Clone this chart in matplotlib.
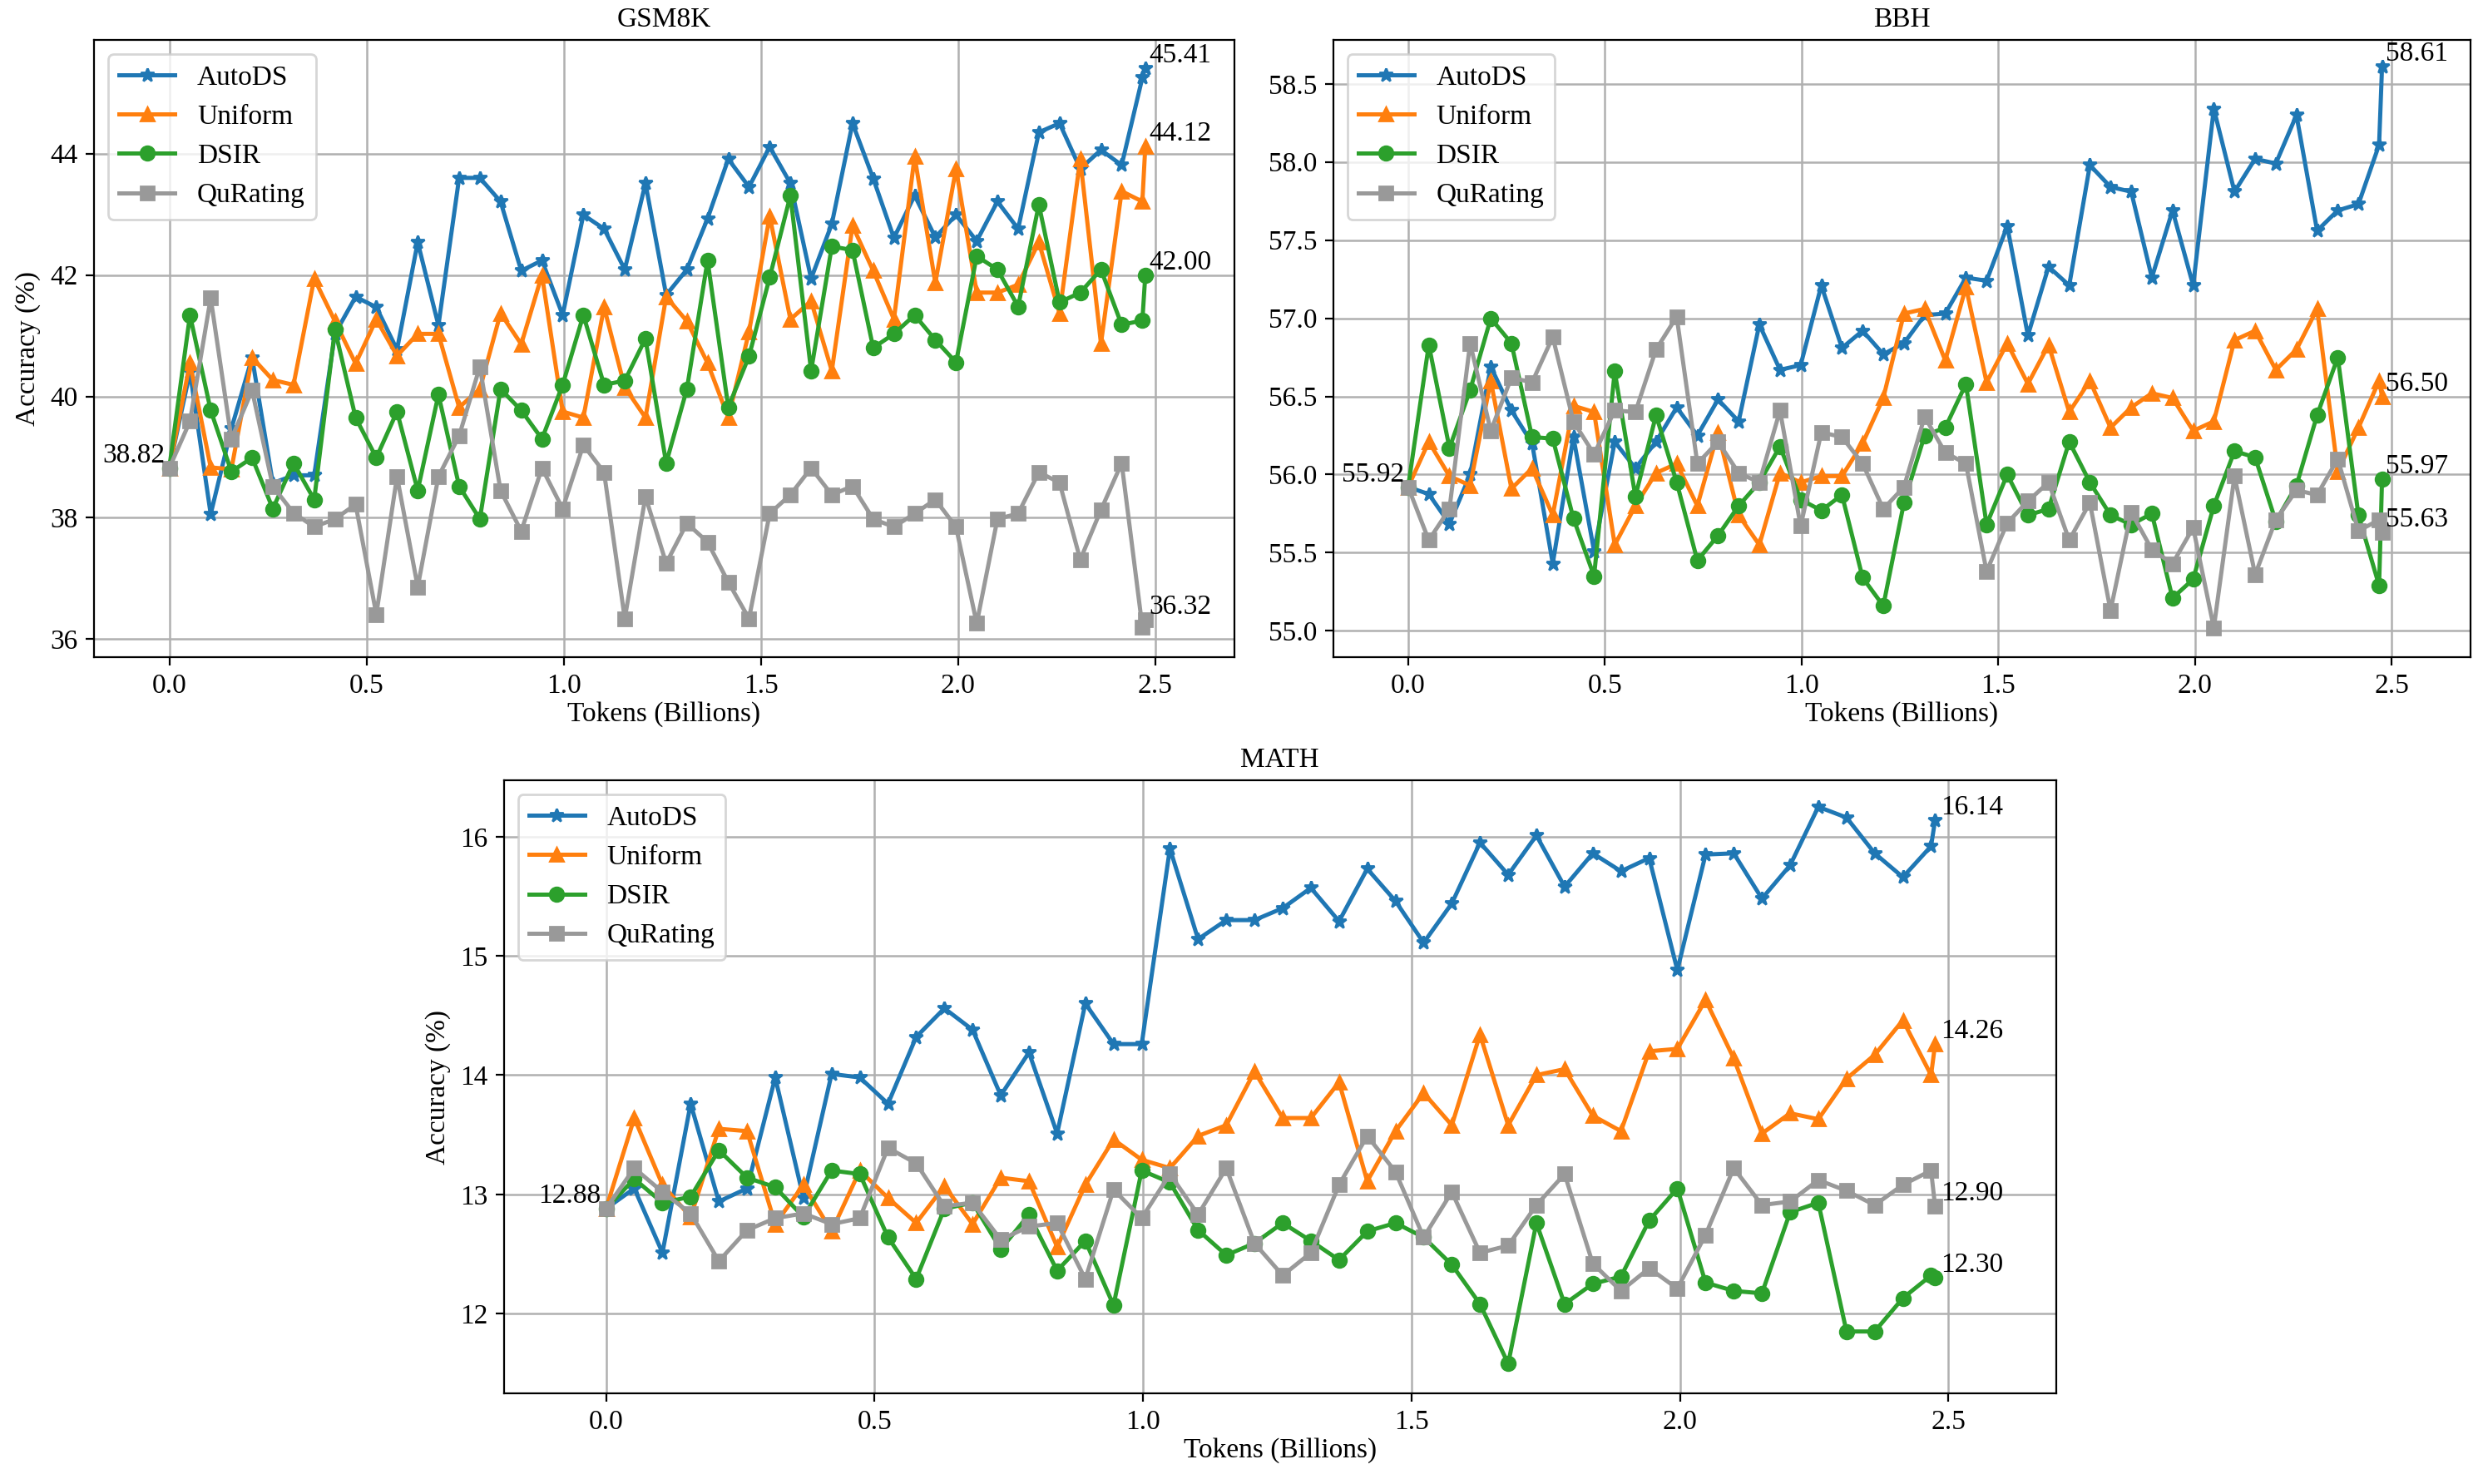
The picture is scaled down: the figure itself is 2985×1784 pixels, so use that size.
import numpy as np
import matplotlib
matplotlib.use('Agg')
import matplotlib.pyplot as plt

plt.rcParams['font.family'] = ['Liberation Serif', 'DejaVu Serif']
plt.rcParams['font.size'] = 12

# 48 checkpoints plus the final evaluation
step = 0.0525
tokens = [round(i * step, 4) for i in range(48)] + [2.475]

gsm_autods = [38.82, 40.4, 38.06, 39.47, 40.64, 38.57, 38.70, 38.70, 41.03, 41.64, 41.47, 40.77, 42.54, 41.17,
              43.60, 43.60, 43.21, 42.07, 42.24, 41.34, 42.99, 42.76, 42.09, 43.51, 41.67, 42.09, 42.93, 43.91,
              43.45, 44.11, 43.51, 41.94, 42.84, 44.50, 43.59, 42.61, 43.31, 42.62, 42.99, 42.56, 43.21, 42.76,
              44.35, 44.50, 43.75, 44.06, 43.81, 45.25, 45.41]
gsm_uniform = [38.82, 40.55, 38.83, 38.80, 40.64, 40.27, 40.19, 41.94, 41.24, 40.54, 41.27, 40.67, 41.03, 41.03,
               39.82, 40.12, 41.37, 40.86, 42.00, 39.75, 39.65, 41.47, 40.15, 39.65, 41.64, 41.24, 40.55, 39.65,
               41.06, 42.97, 41.27, 41.57, 40.42, 42.81, 42.07, 41.27, 43.95, 41.87, 43.75, 41.71, 41.71, 41.84,
               42.54, 41.37, 43.91, 40.87, 43.38, 43.21, 44.12]
gsm_dsir = [38.82, 41.34, 39.77, 38.76, 38.99, 38.15, 38.90, 38.30, 41.10, 39.65, 38.99, 39.75, 38.45, 40.03,
            38.52, 37.98, 40.12, 39.77, 39.30, 40.19, 41.34, 40.19, 40.26, 40.95, 38.90, 40.12, 42.24, 39.82,
            40.66, 41.96, 43.31, 40.42, 42.47, 42.41, 40.80, 41.03, 41.34, 40.93, 40.56, 42.31, 42.09, 41.48,
            43.16, 41.55, 41.71, 42.09, 41.18, 41.25, 42.00]
gsm_qurating = [38.82, 39.59, 41.62, 39.30, 40.10, 38.52, 38.08, 37.85, 37.98, 38.22, 36.41, 38.68, 36.86, 38.68,
                39.35, 40.49, 38.45, 37.78, 38.82, 38.15, 39.20, 38.75, 36.34, 38.35, 37.25, 37.91, 37.60, 36.94,
                36.34, 38.07, 38.38, 38.82, 38.38, 38.52, 37.98, 37.85, 38.07, 38.30, 37.85, 36.26, 37.98, 38.07,
                38.75, 38.58, 37.31, 38.13, 38.90, 36.20, 36.32]

bbh_autods = [55.92, 55.875, 55.685, 56.00, 56.69, 56.41, 56.20, 55.43, 56.24, 55.51, 56.21, 56.04, 56.21, 56.43,
              56.25, 56.48, 56.34, 56.96, 56.67, 56.70, 57.21, 56.81, 56.92, 56.77, 56.84, 57.02, 57.03, 57.26,
              57.24, 57.59, 56.89, 57.33, 57.21, 57.98, 57.84, 57.81, 57.26, 57.69, 57.21, 58.34, 57.81, 58.02,
              57.99, 58.30, 57.56, 57.69, 57.73, 58.11, 58.61]
bbh_uniform = [55.92, 56.21, 55.99, 55.93, 56.60, 55.91, 56.04, 55.74, 56.44, 56.40, 55.55, 55.80, 56.01, 56.07,
               55.80, 56.27, 55.74, 55.55, 56.01, 55.95, 55.99, 55.99, 56.20, 56.49, 57.03, 57.06, 56.73, 57.20,
               56.59, 56.84, 56.58, 56.83, 56.40, 56.60, 56.30, 56.43, 56.52, 56.49, 56.28, 56.34, 56.86, 56.92,
               56.67, 56.80, 57.06, 56.02, 56.30, 56.60, 56.50]
bbh_dsir = [55.92, 56.83, 56.17, 56.54, 57.00, 56.84, 56.24, 56.23, 55.72, 55.35, 56.66, 55.86, 56.38, 55.95,
            55.45, 55.61, 55.80, 55.95, 56.18, 55.84, 55.77, 55.87, 55.34, 55.16, 55.82, 56.25, 56.30, 56.58,
            55.68, 56.00, 55.74, 55.78, 56.21, 55.95, 55.74, 55.68, 55.75, 55.21, 55.33, 55.80, 56.15, 56.11,
            55.70, 55.93, 56.38, 56.75, 55.74, 55.29, 55.97]
bbh_qurating = [55.92, 55.58, 55.78, 56.84, 56.28, 56.62, 56.59, 56.88, 56.34, 56.13, 56.41, 56.40, 56.80, 57.01,
                56.07, 56.21, 56.01, 55.95, 56.41, 55.67, 56.27, 56.24, 56.07, 55.78, 55.92, 56.37, 56.14, 56.07,
                55.38, 55.69, 55.83, 55.95, 55.58, 55.82, 55.13, 55.76, 55.52, 55.43, 55.66, 55.02, 55.99, 55.36,
                55.71, 55.90, 55.87, 56.10, 55.64, 55.71, 55.63]

math_autods = [12.88, 13.05, 12.51, 13.76, 12.94, 13.05, 13.98, 12.97, 14.01, 13.98, 13.76, 14.32, 14.56, 14.38,
               13.83, 14.19, 13.51, 14.60, 14.26, 14.26, 15.90, 15.14, 15.30, 15.30, 15.40, 15.57, 15.29, 15.73,
               15.46, 15.11, 15.44, 15.95, 15.68, 16.01, 15.58, 15.86, 15.71, 15.82, 14.88, 15.85, 15.86, 15.48,
               15.76, 16.25, 16.16, 15.86, 15.66, 15.92, 16.14]
math_uniform = [12.88, 13.64, 13.08, 12.81, 13.55, 13.53, 12.75, 13.08, 12.69, 13.20, 12.97, 12.76, 13.07, 12.75,
                13.14, 13.11, 12.56, 13.08, 13.46, 13.29, 13.22, 13.49, 13.58, 14.03, 13.64, 13.64, 13.94, 13.11,
                13.53, 13.85, 13.58, 14.34, 13.58, 14.00, 14.05, 13.66, 13.53, 14.20, 14.22, 14.63, 14.14, 13.51,
                13.68, 13.63, 13.97, 14.17, 14.46, 14.00, 14.26]
math_dsir = [12.88, 13.13, 12.93, 12.98, 13.37, 13.14, 13.06, 12.81, 13.20, 13.17, 12.64, 12.29, 12.88, 12.93,
             12.54, 12.83, 12.36, 12.61, 12.07, 13.20, 13.10, 12.70, 12.49, 12.59, 12.76, 12.61, 12.45, 12.69,
             12.76, 12.64, 12.41, 12.08, 11.58, 12.76, 12.08, 12.25, 12.31, 12.78, 13.05, 12.26, 12.19, 12.17,
             12.85, 12.93, 11.85, 11.85, 12.13, 12.32, 12.30]
math_qurating = [12.88, 13.22, 13.02, 12.84, 12.44, 12.70, 12.80, 12.84, 12.75, 12.80, 13.39, 13.26, 12.90, 12.93,
                 12.62, 12.73, 12.76, 12.29, 13.04, 12.80, 13.17, 12.83, 13.22, 12.59, 12.32, 12.51, 13.08, 13.49,
                 13.19, 12.64, 13.02, 12.51, 12.57, 12.91, 13.17, 12.42, 12.19, 12.38, 12.21, 12.66, 13.22, 12.91,
                 12.94, 13.12, 13.03, 12.91, 13.08, 13.20, 12.90]

methods = ['AutoDS', 'Uniform', 'DSIR', 'QuRating']
colors = ['#1f77b4', '#ff7f0e', '#2ca02c', '#999999']
markers = ['*', '^', 'o', 's']

def draw(ax, title, series, ylim, yticks, ylabel=True):
    for name, vals, c, m in zip(methods, series, colors, markers):
        ax.plot(tokens, vals, color=c, marker=m, markersize=6, linewidth=1.8, label=name)
        ax.text(tokens[-1] + 0.01, vals[-1], f'{vals[-1]:.2f}', ha='left', va='bottom', fontsize=12)
    ax.text(-0.01, series[0][0], f'{series[0][0]:.2f}', ha='right', va='bottom', fontsize=12)
    ax.set_title(title, fontsize=12)
    ax.set_xlim(-0.19, 2.70)
    ax.set_ylim(*ylim)
    ax.set_xticks([0.0, 0.5, 1.0, 1.5, 2.0, 2.5])
    ax.set_yticks(yticks)
    ax.grid(True, color='#b0b0b0', linewidth=0.9)
    ax.set_xlabel('Tokens (Billions)', labelpad=1)
    if ylabel:
        ax.set_ylabel('Accuracy (%)')
    ax.legend(loc='upper left', fontsize=12)

fig = plt.figure(figsize=(14.925, 8.92), dpi=200)
ax1 = fig.add_axes([0.038, 0.557, 0.459, 0.416])
ax2 = fig.add_axes([0.537, 0.557, 0.458, 0.416])
ax3 = fig.add_axes([0.203, 0.061, 0.625, 0.413])

draw(ax1, 'GSM8K', [gsm_autods, gsm_uniform, gsm_dsir, gsm_qurating], (35.70, 45.87), [36, 38, 40, 42, 44])
draw(ax2, 'BBH', [bbh_autods, bbh_uniform, bbh_dsir, bbh_qurating], (54.83, 58.78),
     [55.0, 55.5, 56.0, 56.5, 57.0, 57.5, 58.0, 58.5], ylabel=False)
draw(ax3, 'MATH', [math_autods, math_uniform, math_dsir, math_qurating], (11.33, 16.47), [12, 13, 14, 15, 16])

fig.savefig('out.png', dpi=200)
